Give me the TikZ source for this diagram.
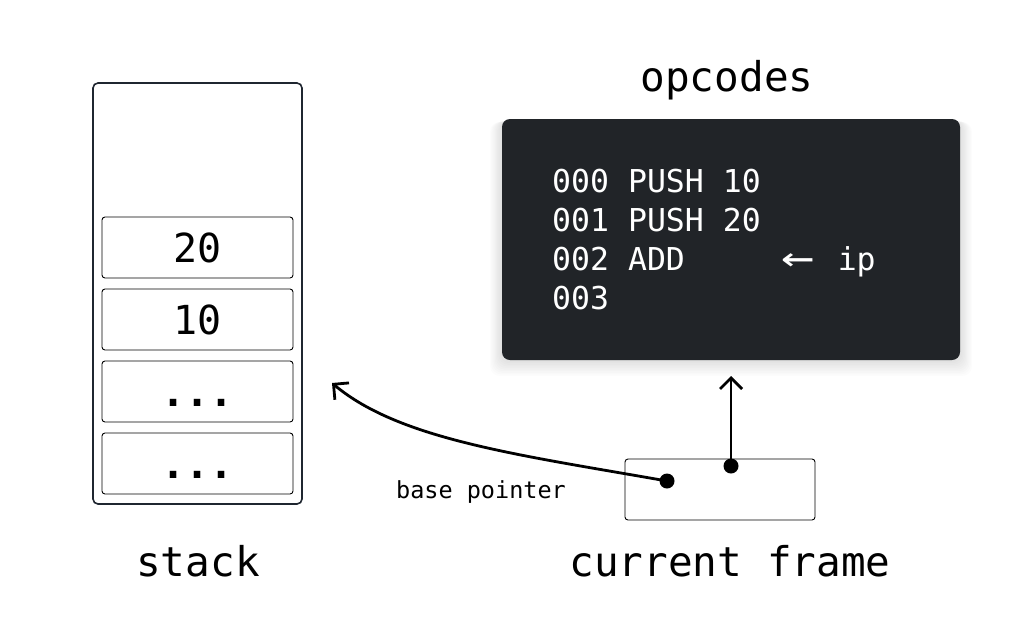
\documentclass[tikz,border=0pt]{standalone}
\usepackage{fontspec}
\setmonofont{DejaVu Sans Mono}
\usetikzlibrary{arrows.meta}
\definecolor{boxdark}{HTML}{212428}
\definecolor{edge}{HTML}{1F2630}
\begin{document}
\begin{tikzpicture}[x=1pt,y=-1pt,
  cell/.style={draw=black,line width=0.9pt,rounded corners=3pt,minimum width=191pt,minimum height=61pt,inner sep=0pt,font=\ttfamily\fontsize{40}{48}\selectfont},
  biglabel/.style={font=\ttfamily\fontsize{41}{48}\selectfont,text=black},
  code/.style={anchor=base west,inner sep=0pt,text=white,font=\ttfamily\fontsize{31.5}{38}\selectfont},
  pdot/.style={circle,fill=black,inner sep=0pt,minimum size=15pt},
  ptr/.style={line width=2.8pt,-{Straight Barb[length=11pt,width=22pt,line width=2.8pt]}}]
\useasboundingbox (0,0) rectangle (1024,638);
\fill[white] (0,0) rectangle (1024,638);
% stack
\node[draw=edge,line width=1.6pt,rounded corners=5pt,minimum width=209pt,minimum height=421pt,inner sep=0pt] (stack) at (197.5,293.5) {};
\node[cell] (c20) at (197.5,247.5) {20};
\node[cell] (c10) at (197.5,319.5) {10};
\node[cell] (c3) at (197.5,391.5) {\vphantom{0}\textbf{...}};
\node[cell] (c4) at (197.5,463.5) {\vphantom{0}\textbf{...}};
\node[biglabel] (stacklbl) at (198,561) {stack};
% opcodes shadow
\foreach \i in {1,...,10}{
  \fill[black,opacity=0.012,rounded corners=10pt] (502-\i*1.2,119+\i*0.3) rectangle (960+\i*1.2,360+\i*1.6);
}
\node[fill=boxdark,rounded corners=8pt,minimum width=458pt,minimum height=241pt,inner sep=0pt] (ops) at (731,239.5) {};
\node[biglabel] (opslbl) at (727,80) {opcodes};
\node[code] (l0) at (552,192) {000 PUSH 10};
\node[code] (l1) at (552,231) {001 PUSH 20};
\node[code] (l2) at (552,270) {002 ADD\ \ \ \ \ \makebox[58pt][l]{\hspace{2pt}\raisebox{-1pt}{\scalebox{1.75}[1.3]{←}}}ip};
\node[code] (l3) at (552,309) {003};
% current frame
\node[draw=black,line width=0.9pt,rounded corners=3pt,minimum width=190pt,minimum height=61pt,inner sep=0pt] (frame) at (720,489.5) {};
\node[biglabel] (framelbl) at (730,561) {current frame};
\node[pdot] (bp) at (667,481) {};
\node[pdot] (ipd) at (731,466) {};
\coordinate (stacktip) at (332,383);
\coordinate (opstip) at (731,376);
\draw[ptr] (ipd.center) -- (opstip);
\draw[ptr] (bp.center) .. controls (520,455) and (400,440) .. (stacktip);
\node[font=\ttfamily\fontsize{23.5}{28}\selectfont] (bplbl) at (481,492) {base pointer};
\end{tikzpicture}
\end{document}
